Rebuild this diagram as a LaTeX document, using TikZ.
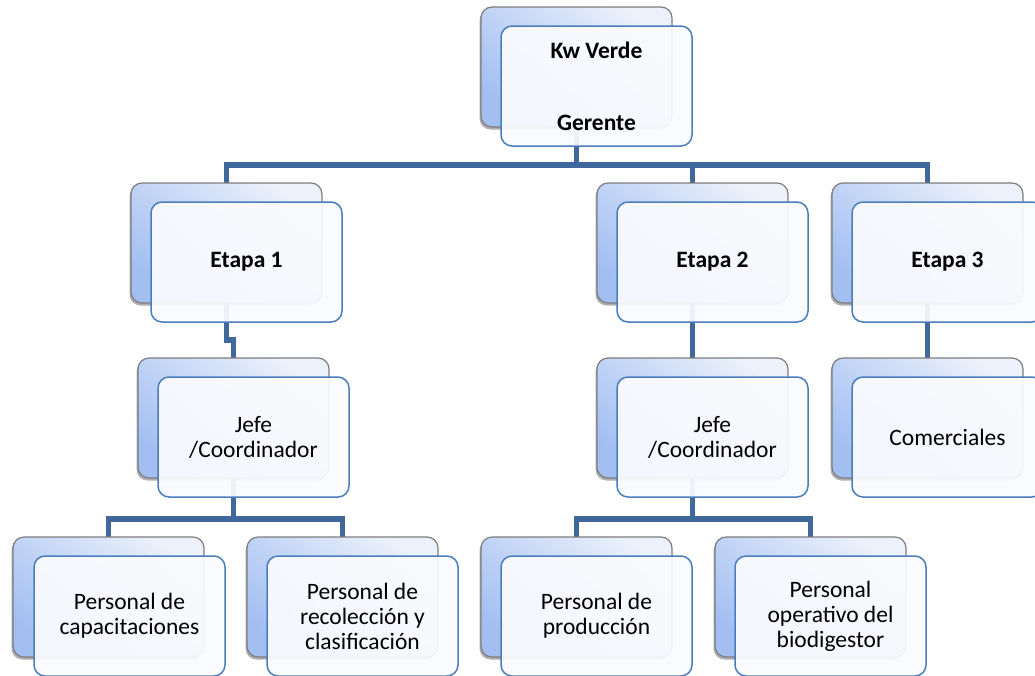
\documentclass[tikz,border=0pt]{standalone}
\usepackage{fontspec}
\setmainfont{Carlito}
\usetikzlibrary{shadows}
\pgfdeclarelayer{paper}
\pgfdeclarelayer{links}
\pgfsetlayers{paper,links,main}
\definecolor{conncol}{RGB}{64,104,156}
\definecolor{frontborder}{RGB}{74,126,187}
\definecolor{frontfill}{RGB}{250,251,254}
\definecolor{backborder}{RGB}{125,125,125}
\definecolor{backtop}{RGB}{236,241,251}
\definecolor{backbot}{RGB}{163,191,242}
\tikzset{
  backbox/.style={draw=backborder, line width=1.2pt, rounded corners=11pt,
    top color=backtop, bottom color=backbot, shading angle=-40,
    minimum width=191pt, minimum height=120pt, inner sep=0pt, outer sep=0pt,
    anchor=north west,
    drop shadow={shadow xshift=-1.5pt, shadow yshift=-2.5pt, opacity=0.45, fill=black!70}},
  frontbox/.style={draw=frontborder, line width=1.5pt, rounded corners=11pt,
    fill=frontfill, fill opacity=0.93, text opacity=1,
    minimum width=191pt, minimum height=120pt, inner sep=0pt, outer sep=0pt,
    anchor=north west, align=center, text=black,
    font=\fontsize{23.5}{25}\selectfont},
  conn/.style={draw=conncol, line width=5.3pt, line join=miter},
}
\begin{document}
\begin{tikzpicture}[x=1pt, y=-1pt]
\useasboundingbox (0,0) rectangle (1035,675);
\begin{pgfonlayer}{paper}
\fill[white] (0,0) rectangle (1035,675);
\end{pgfonlayer}

\coordinate (bus1) at (0,165);
\coordinate (jog1) at (0,340);
\coordinate (bus2) at (0,519);

% back boxes
\node[backbox] (kwb) at (481,7) {};
\node[backbox] (e1b) at (131,183) {};
\node[backbox] (e2b) at (597,183) {};
\node[backbox] (e3b) at (832,183) {};
\node[backbox] (j1b) at (138,358) {};
\node[backbox] (j2b) at (597,358) {};
\node[backbox] (comb) at (832,358) {};
\node[backbox] (p1b) at (13,537) {};
\node[backbox] (p2b) at (247,537) {};
\node[backbox] (p3b) at (481,537) {};
\node[backbox] (p4b) at (715,537) {};

% connectors (behind boxes)
\begin{pgfonlayer}{links}
\draw[conn] (kwb.south) -- (kwb.south |- bus1);
\draw[conn] (e1b.north) |- (e3b.north |- bus1) -- (e3b.north);
\draw[conn] (e2b.north) -- (e2b.north |- bus1);
\draw[conn] (e1b.south) -- (e1b.south |- jog1) -- (j1b.north |- jog1) -- (j1b.north);
\draw[conn] (e2b.south) -- (j2b.north);
\draw[conn] (e3b.south) -- (comb.north);
\draw[conn] (j1b.south) -- (j1b.south |- bus2);
\draw[conn] (p1b.north) |- (p2b.north |- bus2) -- (p2b.north);
\draw[conn] (j2b.south) -- (j2b.south |- bus2);
\draw[conn] (p3b.north) |- (p4b.north |- bus2) -- (p4b.north);
\end{pgfonlayer}

% front boxes with text
\node[frontbox] (kwf) at (501,26) {\textbf{Kw Verde}\\[47pt]\textbf{Gerente}};
\node[frontbox] (e1f) at (151,202) {\textbf{Etapa 1}};
\node[frontbox] (e2f) at (617,202) {\textbf{Etapa 2}};
\node[frontbox] (e3f) at (852,202) {\textbf{Etapa 3}};
\node[frontbox] (j1f) at (158,377) {Jefe\\/Coordinador};
\node[frontbox] (j2f) at (617,377) {Jefe\\/Coordinador};
\node[frontbox] (comf) at (852,377) {Comerciales};
\node[frontbox] (p1f) at (34,556) {Personal de\\capacitaciones};
\node[frontbox] (p2f) at (267,556) {Personal de\\recolección y\\clasificación};
\node[frontbox] (p3f) at (501,556) {Personal de\\producción};
\node[frontbox] (p4f) at (735,556) {Personal\\operativo del\\biodigestor};
\end{tikzpicture}
\end{document}
